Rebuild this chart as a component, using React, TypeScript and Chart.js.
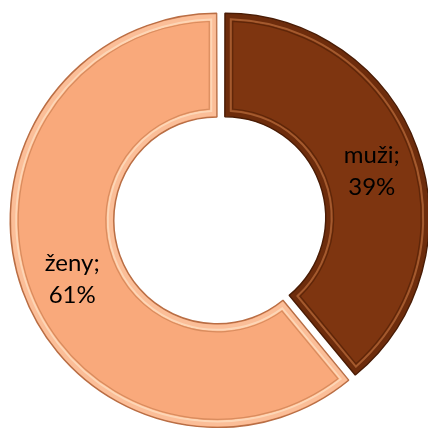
import React, { useEffect, useRef } from "react";
import { Chart, registerables } from "chart.js";

Chart.register(...registerables);

const categories = ["muži", "ženy"];
const values = [39, 61];
const valueLabels = ["39%", "61%"];
const fillColors = ["#7E3510", "#F9A97B"];
const edgeColors = ["#4A1C05", "#B96E45"];
const bandColors = ["rgba(60,20,0,0.25)", "rgba(255,230,205,0.35)"];
const highlightColors = ["#A45A2E", "#FDD6B6"];
const shadowColors = ["#5E2609", "#D98C5E"];

const bevelPlugin = {
  id: "bevel",
  afterDatasetsDraw(chart: any) {
    const meta = chart.getDatasetMeta(0);
    const ctx = chart.ctx as CanvasRenderingContext2D;
    meta.data.forEach((arc: any, i: number) => {
      const { x, y, startAngle, endAngle, innerRadius, outerRadius, circumference } = arc.getProps(
        ["x", "y", "startAngle", "endAngle", "innerRadius", "outerRadius", "circumference"],
        true
      );
      const offset = (arc.options.offset || 0) / 4;
      const half = (startAngle + endAngle) / 2;
      const fix = 1 - Math.sin(Math.min(Math.PI, circumference || 0));
      const ro = offset * fix;
      const oR = outerRadius + ro;
      const iR = innerRadius + ro;
      ctx.save();
      ctx.translate(Math.cos(half) * offset, Math.sin(half) * offset);
      const inset = (d: number, newPath: boolean) => {
        const a = oR - d;
        const b = iR + d;
        if (newPath) ctx.beginPath();
        ctx.moveTo(x + Math.cos(startAngle + d / a) * a, y + Math.sin(startAngle + d / a) * a);
        ctx.arc(x, y, a, startAngle + d / a, endAngle - d / a, false);
        ctx.arc(x, y, b, endAngle - d / b, startAngle + d / b, true);
        ctx.closePath();
      };
      inset(1, true);
      inset(6, false);
      ctx.fillStyle = bandColors[i];
      ctx.fill("evenodd");
      inset(6, true);
      ctx.lineWidth = 2;
      ctx.strokeStyle = highlightColors[i];
      ctx.stroke();
      inset(8, true);
      ctx.lineWidth = 1.2;
      ctx.strokeStyle = shadowColors[i];
      ctx.stroke();
      ctx.restore();
    });
  },
  afterDraw(chart: any) {
    const meta = chart.getDatasetMeta(0);
    const ctx = chart.ctx as CanvasRenderingContext2D;
    ctx.save();
    ctx.fillStyle = "#000000";
    ctx.font = "24px Lato, 'Open Sans', sans-serif";
    ctx.textAlign = "center";
    ctx.textBaseline = "alphabetic";
    meta.data.forEach((arc: any, i: number) => {
      const p = arc.tooltipPosition(true);
      ctx.fillText(categories[i] + ";", p.x + 1, p.y - 2);
      ctx.fillText(valueLabels[i], p.x + 1, p.y + 30);
    });
    ctx.restore();
  },
};

export default function App() {
  const ref = useRef<HTMLCanvasElement>(null);
  useEffect(() => {
    if (!ref.current) return;
    const chart = new Chart(ref.current, {
      type: "doughnut",
      data: {
        labels: categories,
        datasets: [
          {
            data: values,
            backgroundColor: fillColors,
            borderColor: edgeColors,
            borderWidth: 1.5,
            offset: 16,
          },
        ],
      },
      options: {
        responsive: false,
        animation: false,
        radius: 203,
        cutout: "49%",
        layout: { padding: 0 },
        plugins: { legend: { display: false }, tooltip: { enabled: false } },
      },
      plugins: [bevelPlugin],
    } as any);
    return () => chart.destroy();
  }, []);
  return (
    <div style={{ position: "fixed", left: 0, top: 0, width: 428, height: 428, overflow: "hidden", background: "#fff" }}>
      <canvas ref={ref} width={442} height={438} style={{ display: "block" }} />
    </div>
  );
}
